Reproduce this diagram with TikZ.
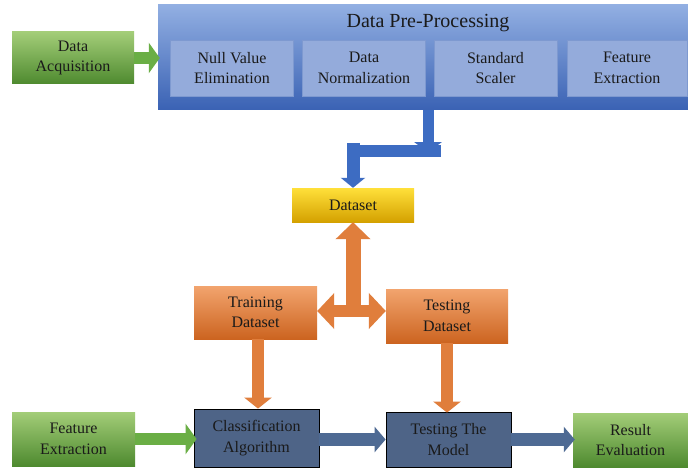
\documentclass[tikz,border=0pt]{standalone}
\usepackage{fontspec}
\setmainfont{Liberation Serif}
\usetikzlibrary{arrows.meta}
\definecolor{grnT}{HTML}{A3CD78}
\definecolor{grnB}{HTML}{4E8A2F}
\definecolor{preT}{HTML}{92AFE2}
\definecolor{preB}{HTML}{3A62B4}
\definecolor{inner}{HTML}{94ABDB}
\definecolor{innerD}{HTML}{7E99D0}
\definecolor{ylwT}{HTML}{FFE03A}
\definecolor{ylwB}{HTML}{D4A100}
\definecolor{orT}{HTML}{F2A46E}
\definecolor{orB}{HTML}{CC6420}
\definecolor{slate}{HTML}{4E6487}
\definecolor{slateA}{HTML}{4E6A93}
\definecolor{bluA}{HTML}{3D6CC2}
\definecolor{orA}{HTML}{E07E3C}
\definecolor{grnA}{HTML}{6AAE45}
\definecolor{txt}{HTML}{1A1A1A}
\tikzset{
  box/.style={rectangle, inner sep=0pt, align=center, text=txt,
    font=\fontsize{16}{20.5}\selectfont},
  greenbox/.style={box, top color=grnT, bottom color=grnB},
  innerbox/.style={box, fill=inner, draw=innerD, line width=0.6pt,
    minimum width=123pt, minimum height=56pt},
  yellowbox/.style={box, top color=ylwT, bottom color=ylwB},
  orangebox/.style={box, top color=orT, bottom color=orB},
  slatebox/.style={box, fill=slate, draw=black, line width=0.8pt},
  garrow/.style={draw=grnA, line width=12pt, -{Triangle[width=30pt,length=11pt]}},
  sarrow/.style={draw=slateA, line width=13pt, -{Triangle[width=25pt,length=11pt]}},
  oarrow/.style={draw=orA, line width=12pt, -{Triangle[width=27pt,length=11pt]}},
  odbl/.style={draw=orA, line width=12pt, {Triangle[width=35pt,length=17pt]}-{Triangle[width=35pt,length=17pt]}},
  overt/.style={draw=orA, line width=15pt, -{Triangle[width=34pt,length=17pt]}},
  barrow/.style={draw=bluA, line width=11pt, -{Triangle[width=27pt,length=10pt]}},
  barrowB/.style={draw=bluA, line width=13pt, -{Triangle[width=24pt,length=10pt]}},
}
\begin{document}
\begin{tikzpicture}[x=1pt,y=-1pt]
\useasboundingbox (0,0) rectangle (688,468);
\fill[white] (0,0) rectangle (688,468);

% top row
\node[greenbox, minimum width=122pt, minimum height=52pt] (da) at (73,58) {Data\\Acquisition};
\node[rectangle, inner sep=0pt, top color=preT, bottom color=preB,
      minimum width=530pt, minimum height=105pt] (pre) at (423,57.5) {};
\node[box, font=\fontsize{20}{24}\selectfont] (title) at (428,23) {Data Pre-Processing};
\node[innerbox] (p1) at (232,68) {Null Value\\Elimination};
\node[innerbox] (p2) at (364,68) {Data\\Normalization};
\node[innerbox] (p3) at (495.5,68) {Standard\\Scaler};
\node[innerbox, minimum width=120pt] (p4) at (627,68) {Feature\\Extraction};

% middle
\node[yellowbox, minimum width=122pt, minimum height=34pt] (ds) at (353,205) {Dataset};
\node[orangebox, minimum width=123pt, minimum height=53pt] (tr) at (255.5,312.5) {Training\\Dataset};
\node[orangebox, minimum width=122pt, minimum height=54pt] (te) at (447,316) {Testing\\Dataset};

% bottom row
\node[greenbox, minimum width=123pt, minimum height=54pt] (fe) at (73.5,439) {Feature\\Extraction};
\node[slatebox, minimum width=125pt, minimum height=58pt] (ca) at (256.5,438) {Classification\\Algorithm};
\node[slatebox, minimum width=125pt, minimum height=55pt] (tm) at (448.5,439.5) {Testing The\\Model};
\node[greenbox, minimum width=115pt, minimum height=54pt] (re) at (630.5,440) {Result\\Evaluation};

% connectors
\draw[garrow, shorten >=-2pt] (da.east) -- (pre.west |- da.east);
\draw[garrow, shorten >=-3pt] (fe.east) -- (ca.west |- fe.east);
\draw[sarrow] (ca.east |- tm.west) -- (tm.west);
\draw[sarrow, shorten >=-2pt] (tm.east) -- (re.west |- tm.east);

% blue elbow
\coordinate (elb) at (354.5,143);
\fill[bluA] (354,145) rectangle (441,157);
\draw[barrow] ([xshift=5pt]pre.south) -- ++(0,42);
\draw[barrowB] (ds.north |- elb) -- (ds.north);

% orange arrows
\coordinate (hub) at (353,311);
\draw[overt] (hub) ++(0,5) -- (ds.south);
\draw[odbl] (tr.east |- hub) -- (te.west |- hub);
\draw[oarrow] ([xshift=2.5pt]tr.south) -- ([xshift=2.5pt]tr.south |- ca.north);
\draw[oarrow, shorten >=-1pt] (te.south) -- (te.south |- tm.north);
\end{tikzpicture}
\end{document}
